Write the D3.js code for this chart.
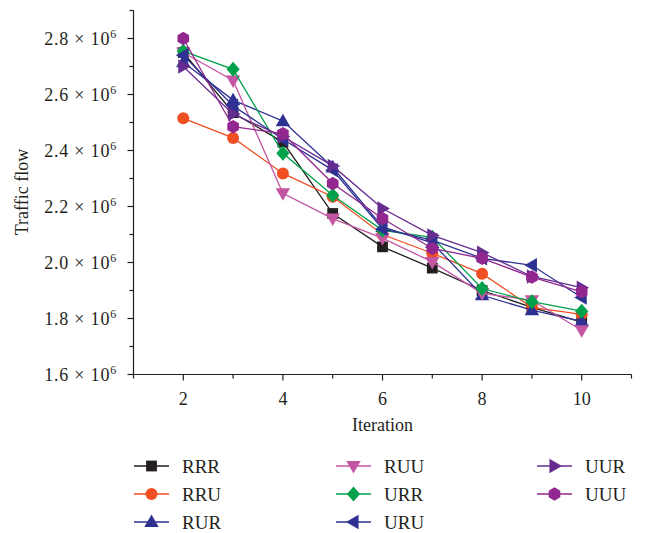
<!DOCTYPE html>
<html>
<head>
<meta charset="utf-8">
<script src="https://cdn.jsdelivr.net/npm/d3@7"></script>
<style>
  html, body { margin: 0; padding: 0; background: #fff; }
  svg { display: block; }
  text { font-family: "Liberation Serif", "DejaVu Serif", serif; fill: #231f20; }
</style>
</head>
<body>
<svg id="chart" width="645" height="533"></svg>
<script>
// Iterations on the x axis
const iterations = [2, 3, 4, 5, 6, 7, 8, 9, 10];

// Traffic flow per strategy (millions)
const RRR = [2.75, 2.535, 2.43, 2.175, 2.056, 1.98, 1.90, 1.84, 1.787];
const RRU = [2.515, 2.445, 2.318, 2.235, 2.10, 2.033, 1.96, 1.84, 1.815];
const RUR = [2.715, 2.58, 2.505, 2.34, 2.127, 2.07, 1.883, 1.83, 1.79];
const RUU = [2.75, 2.65, 2.247, 2.157, 2.087, 2.002, 1.89, 1.865, 1.758];
const URR = [2.755, 2.69, 2.39, 2.24, 2.115, 2.09, 1.907, 1.86, 1.826];
const URU = [2.74, 2.56, 2.44, 2.33, 2.12, 2.08, 2.015, 1.99, 1.875];
const UUR = [2.70, 2.53, 2.45, 2.345, 2.193, 2.097, 2.035, 1.95, 1.91];
const UUU = [2.80, 2.485, 2.46, 2.282, 2.157, 2.05, 2.015, 1.948, 1.895];

const seriesNames = ["RRR", "RRU", "RUR", "RUU", "URR", "URU", "UUR", "UUU"];
const seriesValues = [RRR, RRU, RUR, RUU, URR, URU, UUR, UUU];
const seriesColors = ["#231f20", "#f04e23", "#2e3192", "#c355a3", "#00a14b", "#2e3192", "#662d91", "#92278f"];
const seriesMarkers = ["square", "circle", "up", "down", "diamond", "left", "right", "hexagon"];

// Axis ticks
const xTicks = [2, 4, 6, 8, 10];
const xMinorTicks = [1, 3, 5, 7, 9, 11];
const yTicks = [1.6, 1.8, 2.0, 2.2, 2.4, 2.6, 2.8];
const yMinorTicks = [1.7, 1.9, 2.1, 2.3, 2.5, 2.7, 2.9];

const svg = d3.select("#chart");

const x = d3.scaleLinear().domain([1, 11]).range([133.5, 631.5]);
const y = d3.scaleLinear().domain([1.6, 2.9]).range([374.5, 10.5]);

// Marker path for a given shape centred at the origin
function markerPath(shape, s) {
  const p = d3.path();
  const poly = pts => {
    p.moveTo(pts[0][0], pts[0][1]);
    for (let i = 1; i < pts.length; i++) p.lineTo(pts[i][0], pts[i][1]);
    p.closePath();
  };
  switch (shape) {
    case "square": poly([[-s*0.45, -s*0.45], [s*0.45, -s*0.45], [s*0.45, s*0.45], [-s*0.45, s*0.45]]); break;
    case "circle": p.arc(0, 0, s*0.5, 0, 2*Math.PI); break;
    case "up": poly([[0, -s*0.62], [s*0.6, s*0.42], [-s*0.6, s*0.42]]); break;
    case "down": poly([[0, s*0.62], [s*0.6, -s*0.42], [-s*0.6, -s*0.42]]); break;
    case "left": poly([[-s*0.62, 0], [s*0.42, -s*0.6], [s*0.42, s*0.6]]); break;
    case "right": poly([[s*0.62, 0], [-s*0.42, -s*0.6], [-s*0.42, s*0.6]]); break;
    case "diamond": poly([[0, -s*0.62], [s*0.55, 0], [0, s*0.62], [-s*0.55, 0]]); break;
    case "hexagon": {
      const pts = d3.range(6).map(i => {
        const a = Math.PI / 6 + i * Math.PI / 3;
        return [Math.cos(a) * s*0.56, Math.sin(a) * s*0.56];
      });
      poly(pts);
      break;
    }
  }
  return p.toString();
}

// Axes
const axisG = svg.append("g").attr("stroke", "#231f20").attr("stroke-width", 1.2);
axisG.append("line").attr("x1", x(1)).attr("x2", x(11)).attr("y1", y(1.6)).attr("y2", y(1.6));
axisG.append("line").attr("x1", x(1)).attr("x2", x(1)).attr("y1", y(1.6)).attr("y2", y(2.9));

axisG.selectAll(".xt").data(xTicks.concat(xMinorTicks)).join("line")
  .attr("x1", d => x(d)).attr("x2", d => x(d))
  .attr("y1", y(1.6)).attr("y2", d => y(1.6) + (xTicks.includes(d) ? 6 : 4));
axisG.selectAll(".yt").data(yTicks.concat(yMinorTicks)).join("line")
  .attr("y1", d => y(d)).attr("y2", d => y(d))
  .attr("x1", x(1)).attr("x2", d => x(1) - (yTicks.includes(d) ? 6 : 4));

svg.selectAll(".xl").data(xTicks).join("text")
  .attr("x", d => x(d)).attr("y", 405)
  .attr("text-anchor", "middle").attr("font-size", 18)
  .text(d => d);

const yl = svg.selectAll(".yl").data(yTicks).join("text")
  .attr("x", 117).attr("y", d => y(d) + 6.5)
  .attr("text-anchor", "end").attr("font-size", 18)
  .attr("letter-spacing", 0.8);
yl.append("tspan").text(d => d3.format(".1f")(d) + " \u00d7 10");
yl.append("tspan").attr("font-size", 12).attr("dy", -7.5).text("6");

svg.append("text").attr("x", x(6)).attr("y", 431)
  .attr("text-anchor", "middle").attr("font-size", 18).text("Iteration");
svg.append("text")
  .attr("transform", "translate(28,192) rotate(-90)")
  .attr("text-anchor", "middle").attr("font-size", 18).text("Traffic flow");

// Series
const line = d3.line().x((d, i) => x(iterations[i])).y(d => y(d));
seriesNames.forEach((name, k) => {
  const g = svg.append("g");
  g.append("path").datum(seriesValues[k])
    .attr("d", line).attr("fill", "none")
    .attr("stroke", seriesColors[k]).attr("stroke-width", 1.3);
  g.selectAll("path.m").data(seriesValues[k]).join("path")
    .attr("class", "m")
    .attr("transform", (d, i) => `translate(${x(iterations[i])},${y(d)})`)
    .attr("d", markerPath(seriesMarkers[k], 12))
    .attr("fill", seriesColors[k]);
});

// Legend
const legCols = [134, 336, 537];
const legRows = [466, 494, 522];
seriesNames.forEach((name, k) => {
  const cx = legCols[Math.floor(k / 3)];
  const cy = legRows[k % 3];
  const g = svg.append("g");
  g.append("line").attr("x1", cx).attr("x2", cx + 35).attr("y1", cy).attr("y2", cy)
    .attr("stroke", seriesColors[k]).attr("stroke-width", 1.3);
  g.append("path").attr("transform", `translate(${cx + 17.5},${cy})`)
    .attr("d", markerPath(seriesMarkers[k], 12)).attr("fill", seriesColors[k]);
  g.append("text").attr("x", cx + 48).attr("y", cy + 6.5)
    .attr("font-size", 19).text(name);
});
</script>
</body>
</html>
